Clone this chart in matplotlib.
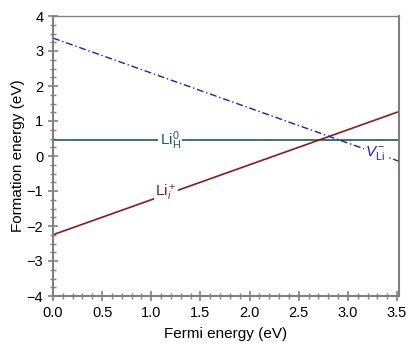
import numpy as np
import matplotlib
matplotlib.use("Agg")
import matplotlib.pyplot as plt
from matplotlib.ticker import MultipleLocator

plt.rcParams['font.family'] = ['Liberation Sans', 'DejaVu Sans']
plt.rcParams['mathtext.fontset'] = 'custom'
plt.rcParams['mathtext.rm'] = 'Liberation Sans'
plt.rcParams['mathtext.it'] = 'Liberation Sans:italic'

# defect formation energies vs Fermi level (eV)
x_ends = [0.0, 3.52]
li_h0 = [0.45, 0.45]       # Li_H^0, neutral
li_i_plus = [-2.25, 1.27]   # Li_i^+
v_li_minus = [3.37, -0.15]  # V_Li^-

c_green = '#1e5a55'
c_red = '#8b1a1a'
c_blue = '#1c1cc8'
c_axis = '#808080'

fig = plt.figure(figsize=(4.15, 3.47), dpi=100)
ax = fig.add_axes([53/415, 51/347, 346/415, 280/347])

ax.plot(x_ends, li_h0, color=c_green, lw=1.2)
ax.plot(x_ends, li_i_plus, color=c_red, lw=1.2)
ax.plot(x_ends, v_li_minus, color=c_blue, lw=1.0, dashes=(5, 2, 1, 2))

bb = dict(facecolor='white', edgecolor='none', pad=1.0)
ax.text(1.19, 0.45, r'Li$_\mathrm{H}^0$', color=c_green, fontsize=11,
        ha='center', va='center', bbox=bb)
ax.text(1.15, -1.05, r'Li$_i^+$', color=c_red, fontsize=11,
        ha='center', va='center', bbox=bb)
ax.text(3.28, 0.08, r'$V_\mathrm{Li}^-$', color=c_blue, fontsize=11,
        ha='center', va='center', bbox=bb)

ax.set_xlim(0, 3.52)
ax.set_ylim(-4, 4)
ax.xaxis.set_major_locator(MultipleLocator(0.5))
ax.xaxis.set_minor_locator(MultipleLocator(0.1))
ax.yaxis.set_major_locator(MultipleLocator(1))
ax.yaxis.set_minor_locator(MultipleLocator(0.25))
ax.xaxis.set_major_formatter(matplotlib.ticker.FormatStrFormatter('%.1f'))

ax.tick_params(which='both', direction='inout', color=c_axis, labelsize=10.5,
               top=False, right=False)
ax.tick_params(which='major', length=7, width=1.2)
ax.tick_params(which='minor', length=4, width=1.0)
for s in ax.spines.values():
    s.set_color(c_axis)
    s.set_linewidth(1.5)
ax.spines['top'].set_linewidth(1.0)

ax.set_xlabel('Fermi energy (eV)', fontsize=11, labelpad=5)
ax.set_ylabel('Formation energy (eV)', fontsize=11, labelpad=1)

fig.savefig('out.png', dpi=100)
